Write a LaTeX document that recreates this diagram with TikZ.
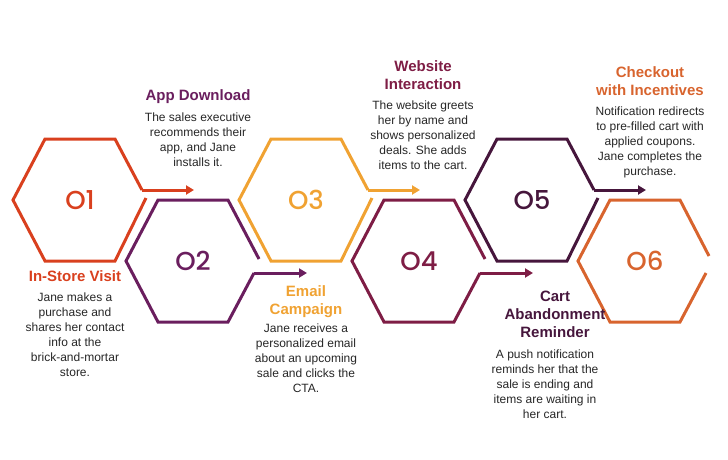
\documentclass[tikz,border=0pt]{standalone}
\usepackage{fontspec}
\setmainfont{Liberation Sans}
\newfontfamily\numfont{Poppins Medium}
\usetikzlibrary{calc,arrows.meta}
\definecolor{cone}{HTML}{D9401E}
\definecolor{ctwo}{HTML}{6A1E5E}
\definecolor{cthree}{HTML}{F0A232}
\definecolor{cfour}{HTML}{7E1D45}
\definecolor{cfive}{HTML}{46163C}
\definecolor{csix}{HTML}{D8642E}
\begin{document}
\begin{tikzpicture}[x=1pt,y=-1pt,
   hexline/.style={line width=3pt,line join=miter},
   flow/.style={line width=3pt,-{Triangle[length=8pt,width=9pt]}},
   num/.style={font=\numfont\fontsize{26}{28}\selectfont},
   title/.style={font=\bfseries\fontsize{15}{18}\selectfont,align=center},
   body/.style={font=\fontsize{12}{15}\selectfont,align=center,text=black!85}
    ]
  \useasboundingbox (0,0) rectangle (728,460);

  % -- top row hexagons (01, 03, 05)
  \foreach \cx/\col/\lbl in {80/cone/01,306/cthree/03,532/cfive/05}{
    \coordinate (h\lbl) at (\cx,200);
    \draw[hexline,\col] ($(h\lbl)+(62,-10)$) -- ++(-27,-51) -- ++(-70,0)
      -- ++(-32,61) -- ++(32,61) -- ++(70,0) -- ($(h\lbl)+(66,-2)$);
    \node[num,text=\col] (n\lbl) at (h\lbl) {O\pgfmathparse{int(\lbl)}\pgfmathresult};
    \coordinate (s\lbl) at ($(h\lbl)+(62,-10)$);
    \coordinate (e\lbl) at ($(h\lbl)+(114,-10)$);
    \draw[flow,\col] (s\lbl) -- (e\lbl);
  }
  % -- bottom row hexagons (02, 04)
  \foreach \cx/\col/\lbl in {193/ctwo/02,419/cfour/04}{
    \coordinate (h\lbl) at (\cx,261);
    \draw[hexline,\col] ($(h\lbl)+(61,12)$) -- ++(-26,49) -- ++(-70,0)
      -- ++(-32,-61) -- ++(32,-61) -- ++(70,0) -- ($(h\lbl)+(66,-2)$);
    \node[num,text=\col] (n\lbl) at (h\lbl) {O\pgfmathparse{int(\lbl)}\pgfmathresult};
    \coordinate (s\lbl) at ($(h\lbl)+(61,12)$);
    \coordinate (e\lbl) at ($(h\lbl)+(114,12)$);
    \draw[flow,\col] (s\lbl) -- (e\lbl);
  }
  % -- last hexagon
  \coordinate (h06) at (645,261);
  \draw[hexline,csix] ($(h06)+(61,12)$) -- ++(-26,49) -- ++(-70,0)
    -- ++(-32,-61) -- ++(32,-61) -- ++(70,0) -- ($(h06)+(64,-5)$);
  \node[num,text=csix] (n06) at (h06) {O6};

  % -- labels
  \node[title,text=cone] (t1) at (75,276) {In-Store Visit};
  \node[body,anchor=north] (d1) at (75,289) {Jane makes a\\purchase and\\shares her contact\\info at the\\brick-and-mortar\\store.};
  \node[title,text=ctwo] (t2) at (198,97) {App Download};
  \node[body,anchor=north] (d2) at (198,109) {The sales executive\\recommends their\\app, and Jane\\installs it.};
  \node[title,text=cthree] (t3) at (306,302) {Email\\Campaign};
  \node[body,anchor=north] (d3) at (306,320) {Jane receives a\\personalized email\\about an upcoming\\sale and clicks the\\CTA.};
  \node[title,text=cfour] (t4) at (423,75) {Website\\Interaction};
  \node[body,anchor=north] (d4) at (423,97) {The website greets\\her by name and\\shows personalized\\deals. She adds\\items to the cart.};
  \node[title,text=cfive] (t5) at (555,314) {Cart\\Abandonment\\Reminder};
  \node[body,anchor=north] (d5) at (545,346) {A push notification\\reminds her that the\\sale is ending and\\items are waiting in\\her cart.};
  \node[title,text=csix] (t6) at (650,81) {Checkout\\with Incentives};
  \node[body,anchor=north] (d6) at (650,103) {Notification redirects\\to pre-filled cart with\\applied coupons.\\Jane completes the\\purchase.};
\end{tikzpicture}
\end{document}
